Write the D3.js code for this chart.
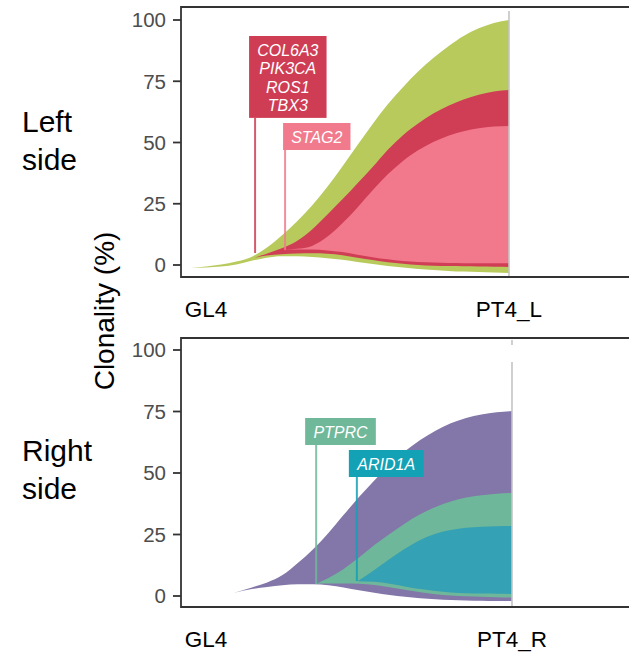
<!DOCTYPE html>
<html>
<head>
<meta charset="utf-8">
<script src="https://cdn.jsdelivr.net/npm/d3@7"></script>
<style>
  body { margin: 0; background: #fff; }
  svg { display: block; font-family: "Liberation Sans", Arial, Helvetica, sans-serif; }
</style>
</head>
<body>
<svg id="chart" width="629" height="656"></svg>
<script>
// ---- data ----------------------------------------------------------------
const sideTitles = [["Left", "side"], ["Right", "side"]];
const timepointNames = [["GL4", "PT4_L"], ["GL4", "PT4_R"]];
const timepointTimes = [0, 100];
const yTickValues = [0, 25, 50, 75, 100];
const yAxisTitle = "Clonality (%)";

// clone outlines, one row per time: [time, lower %, upper %]
const leftFounder = [
  [-5, -1.2, -1.2], [0, -1.0, -0.6], [5, -0.6, 0.2], [10, 0.2, 1.4],
  [15, 1.7, 3.3], [20, 3.0, 7.0], [25, 3.6, 12.0], [30, 3.6, 17.8],
  [35, 3.3, 24.3], [40, 2.8, 31.8], [45, 2.1, 40.2], [50, 1.2, 49.0],
  [55, 0.4, 57.6], [60, -0.4, 65.6], [65, -1.0, 72.6], [70, -1.6, 79.0],
  [75, -2.0, 84.5], [80, -2.4, 89.3], [85, -2.7, 93.5], [90, -2.9, 96.6],
  [95, -3.1, 98.8], [100, -3.3, 100]
];
const leftSubclone1 = [
  [16, 3.0, 3.0], [20, 3.9, 4.6], [25, 4.4, 6.8], [30, 4.7, 9.8],
  [35, 4.8, 14.5], [40, 4.6, 20.5], [45, 4.0, 26.8], [50, 3.0, 33.4],
  [55, 2.0, 40.0], [60, 1.1, 47.0], [65, 0.5, 53.0], [70, 0.0, 57.8],
  [75, -0.3, 61.8], [80, -0.4, 65.0], [85, -0.5, 67.6], [90, -0.6, 69.5],
  [95, -0.7, 70.8], [100, -0.8, 71.4]
];
const leftSubclone2 = [
  [26, 6.1, 6.1], [30, 6.3, 6.6], [35, 6.3, 7.8], [40, 5.9, 11.5],
  [45, 5.3, 17.0], [50, 4.2, 23.5], [55, 3.2, 30.5], [60, 2.3, 37.0],
  [65, 1.6, 42.5], [70, 1.2, 46.8], [75, 1.0, 50.2], [80, 0.8, 52.8],
  [85, 0.75, 54.6], [90, 0.7, 55.8], [95, 0.7, 56.5], [100, 0.7, 56.7]
];
const rightFounder = [
  [9, 1.2, 1.2], [15, 2.8, 3.5], [20, 3.7, 5.5], [25, 4.4, 8.5],
  [30, 4.8, 13.4], [35, 4.8, 19.0], [40, 4.4, 25.6], [45, 3.5, 33.0],
  [50, 2.3, 40.2], [55, 1.3, 47.0], [60, 0.4, 53.3], [65, -0.3, 58.8],
  [70, -0.9, 63.4], [75, -1.3, 67.2], [80, -1.6, 70.2], [85, -1.8, 72.4],
  [90, -1.9, 73.8], [95, -2.0, 74.7], [100, -2.0, 75.2]
];
const rightSubclone1 = [
  [36, 5.0, 5.0], [40, 5.1, 7.3], [45, 5.1, 11.0], [50, 5.0, 15.6],
  [55, 4.5, 20.7], [60, 3.6, 25.2], [65, 2.5, 29.5], [70, 1.5, 33.2],
  [75, 0.7, 36.2], [80, 0.2, 38.4], [85, -0.1, 40.0], [90, -0.3, 41.0],
  [95, -0.5, 41.6], [100, -0.6, 41.9]
];
const rightSubclone2 = [
  [49.5, 6.0, 6.0], [55, 5.8, 10.6], [60, 5.0, 15.0], [65, 3.9, 19.2],
  [70, 2.8, 22.8], [75, 2.0, 25.3], [80, 1.4, 26.8], [85, 1.1, 27.7],
  [90, 1.0, 28.1], [95, 0.9, 28.4], [100, 0.8, 28.5]
];

// mutation labels: genes, anchor [time, %]
const leftLabelGenes = [["COL6A3", "PIK3CA", "ROS1", "TBX3"], ["STAG2"]];
const leftLabelAnchors = [[16.2, 4.9], [26.1, 6.1]];
const rightLabelGenes = [["PTPRC"], ["ARID1A"]];
const rightLabelAnchors = [[36.0, 4.9], [49.3, 6.1]];

// ---- styles & layout ------------------------------------------------------
const leftFills = ["#b9ca5d", "#d03e56", "#f2788c"];
const rightFills = ["#8376a8", "#6fb79a", "#34a1b4"];
const leftBoxFills = ["#cf3d55", "#f27a8d"];
const rightBoxFills = ["#6fb89a", "#12a1b5"];

const panels = [
  {
    frameTop: 7, frameBottom: 277, y0: 265, y100: 20, xEnd: 509,
    titleBaseline: 132, xLabelBaseline: 317,
    clones: [leftFounder, leftSubclone1, leftSubclone2], fills: leftFills,
    genes: leftLabelGenes, anchors: leftLabelAnchors, boxFills: leftBoxFills,
    boxPlace: [{ dx: -6, top: 36 }, { dx: -2, top: 123 }],
    guide: [[11, 277]]
  },
  {
    frameTop: 338, frameBottom: 607, y0: 596, y100: 350, xEnd: 512,
    titleBaseline: 461, xLabelBaseline: 647,
    clones: [rightFounder, rightSubclone1, rightSubclone2], fills: rightFills,
    genes: rightLabelGenes, anchors: rightLabelAnchors, boxFills: rightBoxFills,
    boxPlace: [{ dx: -11, top: 418 }, { dx: -8, top: 450 }],
    guide: [[340, 345], [362, 607]]
  }
];

const svg = d3.select("#chart");
const frameLeft = 181, frameRight = 640;
const axisColor = "#333333";

panels.forEach((p, i) => {
  const x = d3.scaleLinear().domain([0, 100]).range([206, p.xEnd]);
  const y = d3.scaleLinear().domain([0, 100]).range([p.y0, p.y100]);
  const g = svg.append("g");

  // clone bands
  const area = d3.area()
    .x(d => x(d[0]))
    .y0(d => y(d[1]))
    .y1(d => y(d[2]))
    .curve(d3.curveMonotoneX);
  p.clones.forEach((c, k) => {
    g.append("path").attr("d", area(c)).attr("fill", p.fills[k]);
  });

  // time point guide line
  p.guide.forEach(seg => {
    g.append("line")
      .attr("x1", x(100)).attr("x2", x(100))
      .attr("y1", seg[0]).attr("y2", seg[1])
      .attr("stroke", "#c4c4c4").attr("stroke-width", 1.6);
  });

  // mutation labels
  p.genes.forEach((genes, k) => {
    const ax = x(p.anchors[k][0]);
    const ay = y(p.anchors[k][1]);
    const place = p.boxPlace[k];
    const lineH = 18.3;
    const boxH = 27 + (genes.length - 1) * lineH;
    const lab = g.append("g");
    const rect = lab.append("rect").attr("fill", p.boxFills[k]);
    const txt = lab.append("text")
      .attr("fill", "#ffffff").attr("font-style", "italic")
      .attr("font-size", 16).attr("text-anchor", "middle");
    genes.forEach((gname, j) => {
      txt.append("tspan").attr("x", 0).attr("y", place.top + 20 + j * lineH).text(gname);
    });
    const w = txt.node().getBBox().width + 16;
    const left = ax + place.dx;
    rect.attr("x", left).attr("y", place.top).attr("width", w).attr("height", boxH);
    txt.selectAll("tspan").attr("x", left + w / 2);
    lab.insert("line", "rect")
      .attr("x1", ax).attr("x2", ax)
      .attr("y1", place.top + boxH).attr("y2", ay)
      .attr("stroke", p.boxFills[k]).attr("stroke-opacity", 0.85)
      .attr("stroke-width", 2);
  });

  // panel frame (left, top, bottom)
  g.append("path")
    .attr("d", `M${frameRight},${p.frameTop}H${frameLeft}V${p.frameBottom}H${frameRight}`)
    .attr("fill", "none").attr("stroke", axisColor).attr("stroke-width", 1.8);

  // y ticks
  yTickValues.forEach(v => {
    g.append("line")
      .attr("x1", 173).attr("x2", frameLeft)
      .attr("y1", y(v)).attr("y2", y(v))
      .attr("stroke", axisColor).attr("stroke-width", 1.8);
    g.append("text")
      .attr("x", 166).attr("y", y(v)).attr("dy", "0.36em")
      .attr("text-anchor", "end").attr("font-size", 20.5)
      .attr("fill", "#4d4d4d").text(v);
  });

  // time point names
  timepointTimes.forEach((t, k) => {
    g.append("text")
      .attr("x", x(t)).attr("y", p.xLabelBaseline)
      .attr("text-anchor", "middle").attr("font-size", 22.5)
      .attr("fill", "#000").text(timepointNames[i][k]);
  });

  // side title
  const st = g.append("text").attr("font-size", 30).attr("fill", "#000");
  sideTitles[i].forEach((s, j) => {
    st.append("tspan").attr("x", 22).attr("y", p.titleBaseline + j * 38).text(s);
  });
});

// shared y axis title
svg.append("text")
  .attr("transform", "translate(114,311) rotate(-90)")
  .attr("text-anchor", "middle").attr("font-size", 28)
  .attr("fill", "#000").text(yAxisTitle);
</script>
</body>
</html>
